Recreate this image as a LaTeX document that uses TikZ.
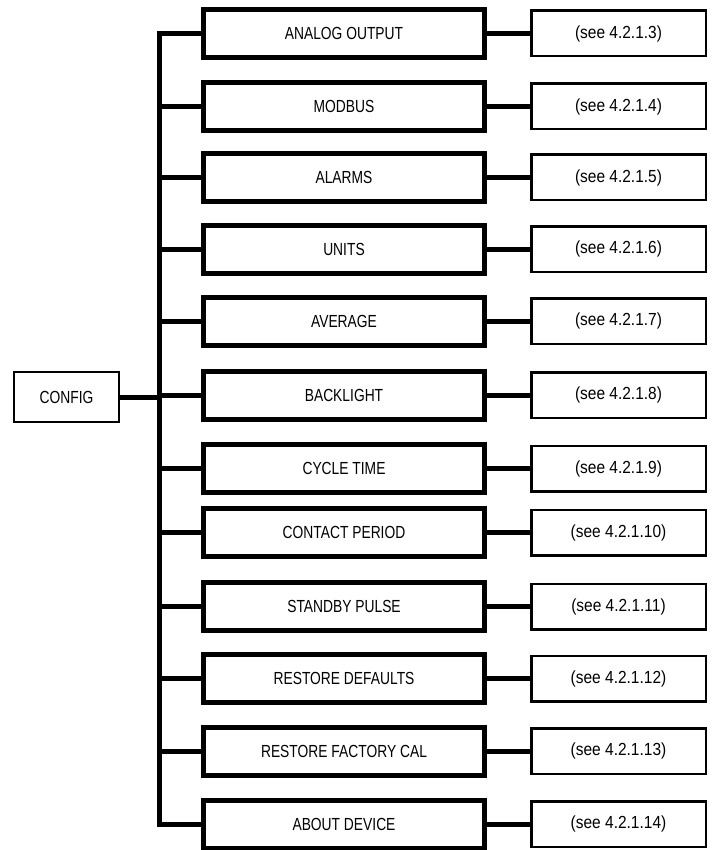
\documentclass[tikz,border=0pt]{standalone}
\usepackage{fontspec}
\setmainfont{Liberation Sans}[FakeStretch=0.79]
\newfontfamily\seefont{Liberation Sans}[FakeStretch=0.885]
\usetikzlibrary{positioning}

\begin{document}
\begin{tikzpicture}[
    x=1pt, y=-1pt,
    font=\fontsize{17.5}{20}\selectfont,
    node distance=43pt,
    menu/.style={
        rectangle, draw=black, line width=5pt,
        minimum width=281pt, minimum height=48pt,
        inner sep=2pt, align=center
    },
    ref/.style={
        rectangle, draw=black, line width=2.5pt,
        minimum width=174.5pt, minimum height=45.5pt,
        inner sep=2pt, align=center, font=\fontsize{17.5}{20}\seefont
    },
    root/.style={
        rectangle, draw=black, line width=2pt,
        minimum width=105pt, minimum height=50pt,
        inner sep=2pt, align=center
    },
    link/.style={draw=black, line width=5pt, line join=miter}
]
    \useasboundingbox (0,0) rectangle (712,850);

    % Nodes (menu column)
    \node[root] (config) at (66.5,397) {CONFIG};
    \node[menu] (analog)  at (344,33.5)  {ANALOG OUTPUT};
    \node[menu] (modbus)  at (344,106.5) {MODBUS};
    \node[menu] (alarms)  at (344,177.5) {ALARMS};
    \node[menu] (units)   at (344,249)   {UNITS};
    \node[menu] (average) at (344,321)   {AVERAGE};
    \node[menu] (backlt)  at (344,395)   {BACKLIGHT};
    \node[menu] (cycle)   at (344,468.5) {CYCLE TIME};
    \node[menu] (contact) at (344,532.5) {CONTACT PERIOD};
    \node[menu] (standby) at (344,606.5) {STANDBY PULSE};
    \node[menu] (restdef) at (344,678.5) {RESTORE DEFAULTS};
    \node[menu] (restcal) at (344,751)   {RESTORE FACTORY CAL};
    \node[menu] (about)   at (344,824)   {ABOUT DEVICE};

    % Nodes (section references)
    \node[ref] (s3)  [right=of analog]  {(see 4.2.1.3)};
    \node[ref] (s4)  [right=of modbus]  {(see 4.2.1.4)};
    \node[ref] (s5)  [right=of alarms]  {(see 4.2.1.5)};
    \node[ref] (s6)  [right=of units]   {(see 4.2.1.6)};
    \node[ref] (s7)  [right=of average] {(see 4.2.1.7)};
    \node[ref] (s8)  [right=of backlt]  {(see 4.2.1.8)};
    \node[ref] (s9)  [right=of cycle]   {(see 4.2.1.9)};
    \node[ref] (s10) [right=of contact] {(see 4.2.1.10)};
    \node[ref] (s11) [right=of standby] {(see 4.2.1.11)};
    \node[ref] (s12) [right=of restdef] {(see 4.2.1.12)};
    \node[ref] (s13) [right=of restcal] {(see 4.2.1.13)};
    \node[ref] (s14) [right=of about]   {(see 4.2.1.14)};

    % Bus
    \coordinate (bus) at (159.5,0);
    \path[link] (analog.west) -- (bus |- analog.west) -- (bus |- about.west) -- (about.west);
    \path[link] (config.east) -- (bus |- config.east);
    \path[link] (bus |- modbus.west) -- (modbus.west);
    \path[link] (bus |- alarms.west) -- (alarms.west);
    \path[link] (bus |- units.west) -- (units.west);
    \path[link] (bus |- average.west) -- (average.west);
    \path[link] (bus |- backlt.west) -- (backlt.west);
    \path[link] (bus |- cycle.west) -- (cycle.west);
    \path[link] (bus |- contact.west) -- (contact.west);
    \path[link] (bus |- standby.west) -- (standby.west);
    \path[link] (bus |- restdef.west) -- (restdef.west);
    \path[link] (bus |- restcal.west) -- (restcal.west);

    % Menu to reference links
    \path[link] (analog) -- (s3);
    \path[link] (modbus) -- (s4);
    \path[link] (alarms) -- (s5);
    \path[link] (units) -- (s6);
    \path[link] (average) -- (s7);
    \path[link] (backlt) -- (s8);
    \path[link] (cycle) -- (s9);
    \path[link] (contact) -- (s10);
    \path[link] (standby) -- (s11);
    \path[link] (restdef) -- (s12);
    \path[link] (restcal) -- (s13);
    \path[link] (about) -- (s14);

\end{tikzpicture}
\end{document}
